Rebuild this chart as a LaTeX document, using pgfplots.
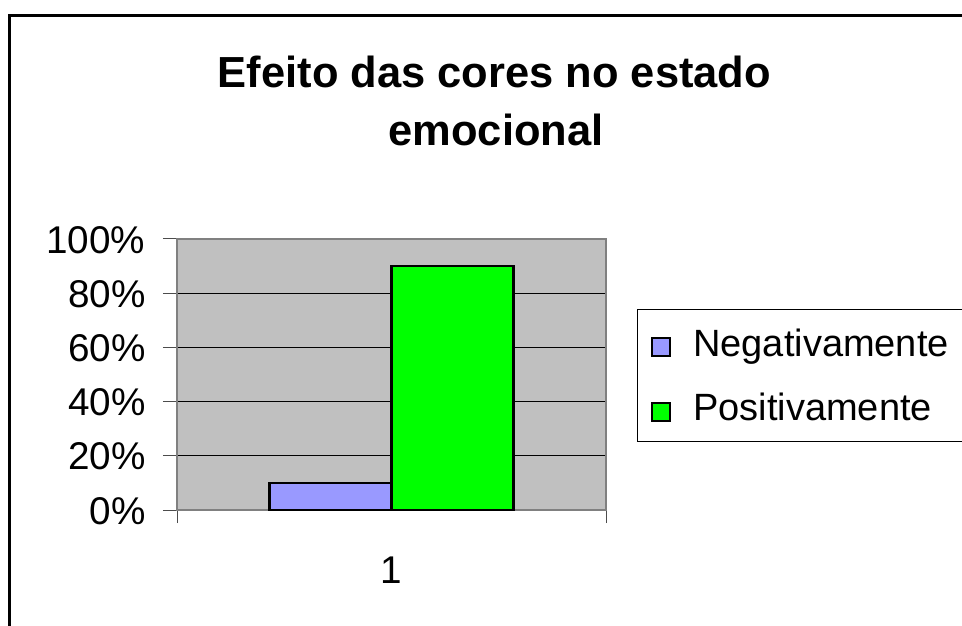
\documentclass[border=0pt]{standalone}
\usepackage{pgfplots}
\pgfplotsset{compat=1.18}
\usepackage{fontspec}
\setmainfont{Liberation Sans}
\definecolor{negc}{HTML}{9999FF}
\definecolor{posc}{HTML}{00FF00}
\definecolor{plotbg}{HTML}{C0C0C0}
\begin{document}
\begin{tikzpicture}
\useasboundingbox (0,0) rectangle (721.5pt,468.75pt);
\draw[line width=2.25pt] (6.75pt,-20pt) -- (6.75pt,457.25pt) -- (760pt,457.25pt);
\node[anchor=base, font=\bfseries\fontsize{32.6}{38}\selectfont, inner sep=0pt] at (370.9pt,402.75pt) {Efeito das cores no estado};
\node[anchor=base, font=\bfseries\fontsize{32.6}{38}\selectfont, inner sep=0pt] at (372pt,359.25pt) {emocional};
\begin{axis}[
  at={(132.75pt,86.25pt)}, anchor=south west,
  scale only axis, width=321.75pt, height=203.25pt,
  xmin=0.5, xmax=1.5, ymin=0, ymax=100,
  axis background/.style={fill=plotbg},
  ybar=0pt, bar width=91.5pt,
  xtick={1}, xticklabels={1},
  major x tick style={draw=none},
  minor xtick={0.5,1.5},
  ytick={0,20,...,100}, yticklabels={0\%,20\%,40\%,60\%,80\%,100\%},
  xtick pos=lower, ytick pos=left,
  tick align=outside, major tick length=10.5pt, minor tick length=9.75pt,
  tick style={draw=gray!60!black, line width=0.75pt},
  ymajorgrids, major grid style={draw=black, line width=0.75pt},
  axis line style={draw=gray, line width=1.5pt},
  ticklabel style={font=\fontsize{29}{34}\selectfont, inner sep=0pt},
  yticklabel style={anchor=base east, xshift=-13pt, yshift=-10.5pt},
  xticklabel style={anchor=base, yshift=-44.25pt},
  legend style={at={(1.0723,0.7417)}, anchor=north west, draw=black, line width=0.75pt, fill=white,
    font=\fontsize{28.5}{34}\selectfont, inner xsep=9.75pt, inner ysep=14.25pt,
    nodes={inner sep=0pt}, /tikz/column sep=17pt, /tikz/row sep=26.5pt},
  sqlegend/.style={legend image code/.code={\draw[##1, line width=1.5pt] (0pt,-9.75pt) rectangle (13.5pt,3.75pt);}},
]
\addplot[fill=negc, draw=black, line width=1.8pt, sqlegend] coordinates {(1,10)};
\addlegendentry{\makebox[205pt][l]{Negativamente}}
\addplot[fill=posc, draw=black, line width=1.8pt, sqlegend] coordinates {(1,90)};
\addlegendentry{\makebox[205pt][l]{Positivamente}}
\end{axis}
\end{tikzpicture}
\end{document}
